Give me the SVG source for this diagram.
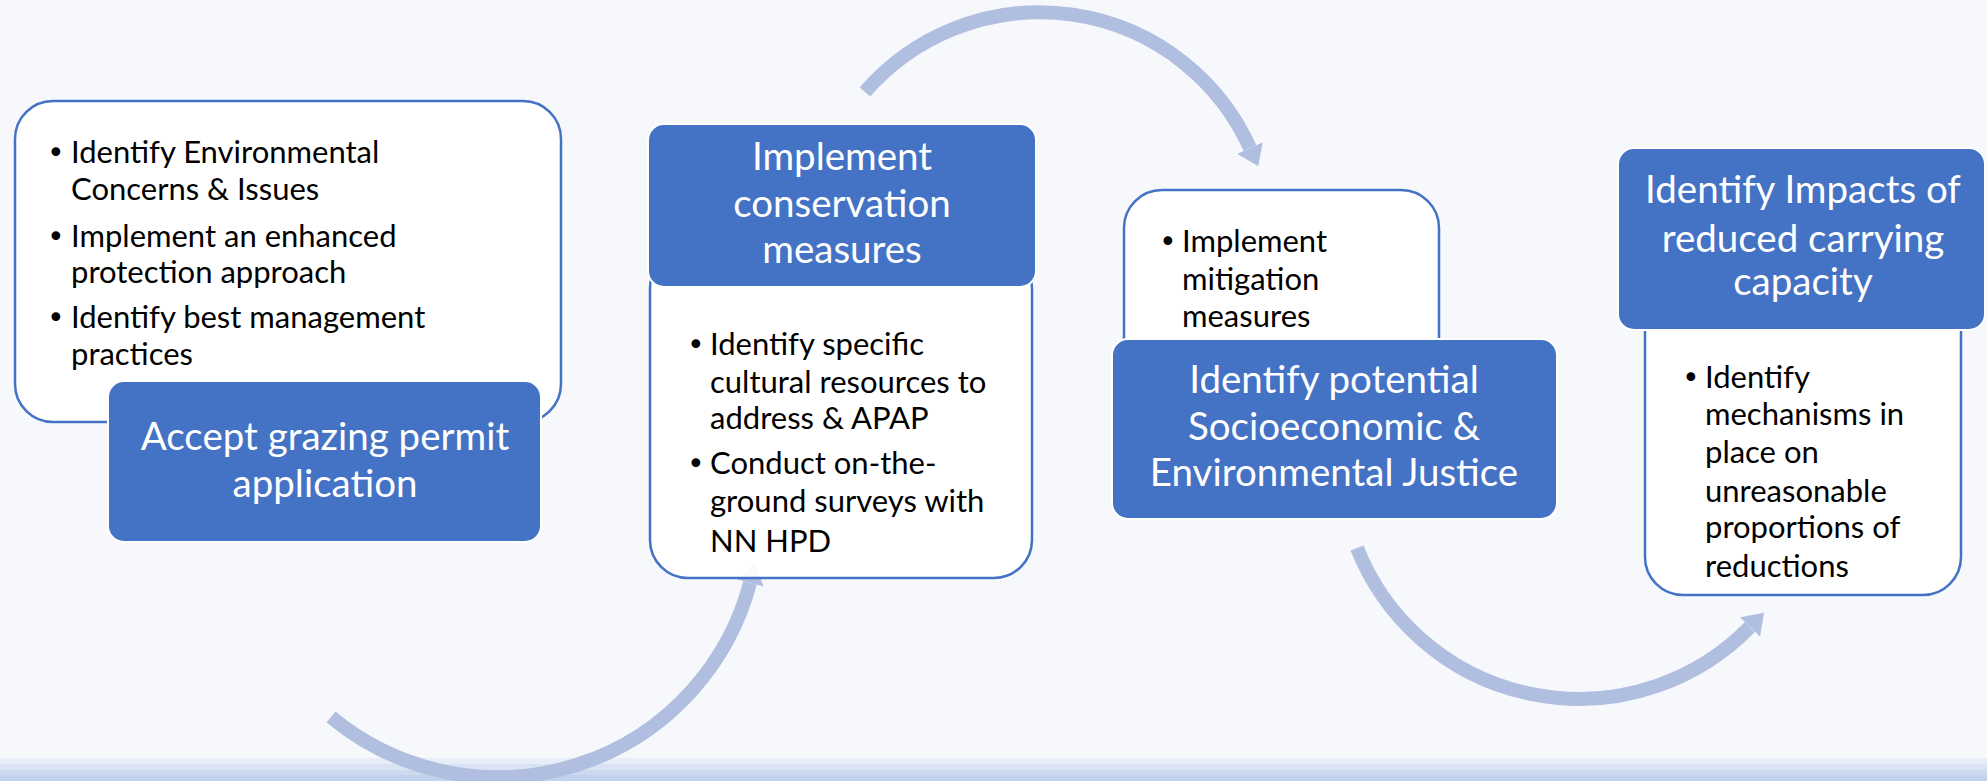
<svg xmlns="http://www.w3.org/2000/svg" width="1987" height="781" viewBox="0 0 1987 781">
<style>
.bg{fill:#F7F8FC}
.card{fill:#FFFFFF;fill-opacity:0.92;stroke:#4472C4;stroke-width:2.5}
.head{fill:#4472C4;stroke:#FFFFFF;stroke-width:2}
.ht{font-family:Lato,"Open Sans","Liberation Sans",sans-serif;font-size:38.5px;fill:#FFFFFF;text-anchor:middle}
.bt{font-family:Lato,"Open Sans","Liberation Sans",sans-serif;font-size:31px;fill:#000000}
.bu{font-family:"DejaVu Sans","Liberation Sans",sans-serif;font-size:30px;fill:#000000}
.arc{fill:none;stroke:#B0BEDF;stroke-width:14;marker-end:url(#ah)}
</style>
<defs>
<marker id="ah" markerUnits="userSpaceOnUse" viewBox="0 0 20 28" refX="0" refY="14" markerWidth="20" markerHeight="28" orient="auto">
<path d="M0,0 L20,14 L0,28 z" fill="#B0BEDF"/>
</marker>
</defs>
<rect class="bg" x="0" y="0" width="1987" height="781"/>
<rect x="0" y="758" width="1987" height="6" fill="#E8EEF7"/>
<rect x="0" y="764" width="1987" height="6" fill="#DAE3F3"/>
<rect x="0" y="770" width="1987" height="5" fill="#CDD9EE"/>
<rect x="0" y="775" width="1987" height="6" fill="#C2D1EC"/>
<g id="connectors">
<path class="arc" d="M331,717 A261,261 0 0 0 750,583"/>
<path class="arc" d="M865,92 A231,231 0 0 1 1250,148"/>
<path class="arc" d="M1357,548 A239,239 0 0 0 1750,627"/>
</g>
<g id="node1">
<rect class="card" x="15" y="101" width="546" height="321" rx="38"/>
<text class="bu" x="47" y="163">•</text>
<text class="bt" x="71" y="163">Identify Environmental</text>
<text class="bt" x="71" y="200">Concerns &amp; Issues</text>
<text class="bu" x="47" y="247">•</text>
<text class="bt" x="71" y="247">Implement an enhanced</text>
<text class="bt" x="71" y="283">protection approach</text>
<text class="bu" x="47" y="328">•</text>
<text class="bt" x="71" y="328">Identify best management</text>
<text class="bt" x="71" y="365">practices</text>
<rect class="head" x="108" y="381" width="433" height="161" rx="16"/>
<text class="ht" x="325" y="450">Accept grazing permit</text>
<text class="ht" x="325" y="497">application</text>
</g>
<g id="node2">
<rect class="card" x="650" y="250" width="382" height="328" rx="38"/>
<text class="bu" x="687" y="355">•</text>
<text class="bt" x="710" y="355">Identify specific</text>
<text class="bt" x="710" y="393">cultural resources to</text>
<text class="bt" x="710" y="429">address &amp; APAP</text>
<text class="bu" x="687" y="474">•</text>
<text class="bt" x="710" y="474">Conduct on-the-</text>
<text class="bt" x="710" y="512">ground surveys with</text>
<text class="bt" x="710" y="552">NN HPD</text>
<rect class="head" x="648" y="124" width="388" height="163" rx="16"/>
<text class="ht" x="842" y="170">Implement</text>
<text class="ht" x="842" y="217">conservation</text>
<text class="ht" x="842" y="263">measures</text>
</g>
<g id="node3">
<rect class="card" x="1124" y="190" width="315" height="200" rx="38"/>
<text class="bu" x="1159" y="252">•</text>
<text class="bt" x="1182" y="252">Implement</text>
<text class="bt" x="1182" y="290">mitigation</text>
<text class="bt" x="1182" y="327">measures</text>
<rect class="head" x="1112" y="339" width="445" height="180" rx="16"/>
<text class="ht" x="1334" y="393">Identify potential</text>
<text class="ht" x="1334" y="440">Socioeconomic &amp;</text>
<text class="ht" x="1334" y="486">Environmental Justice</text>
</g>
<g id="node4">
<rect class="card" x="1645" y="290" width="316" height="305" rx="38"/>
<text class="bu" x="1682" y="388">•</text>
<text class="bt" x="1705" y="388">Identify</text>
<text class="bt" x="1705" y="425">mechanisms in</text>
<text class="bt" x="1705" y="463">place on</text>
<text class="bt" x="1705" y="502">unreasonable</text>
<text class="bt" x="1705" y="538">proportions of</text>
<text class="bt" x="1705" y="577">reductions</text>
<rect class="head" x="1618" y="148" width="367" height="182" rx="16"/>
<text class="ht" x="1803" y="203">Identify Impacts of</text>
<text class="ht" x="1803" y="252">reduced carrying</text>
<text class="ht" x="1803" y="295">capacity</text>
</g>
</svg>
